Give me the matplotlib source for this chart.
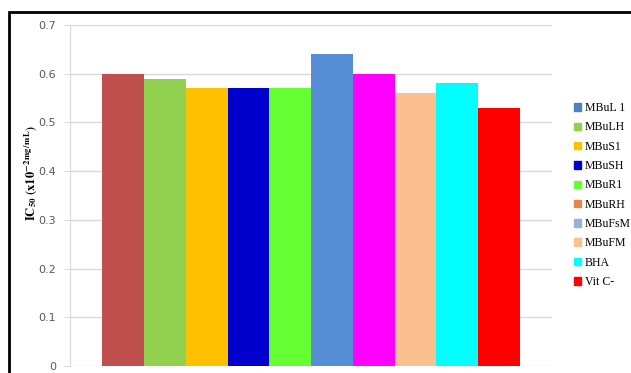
#!/usr/bin/env python3
"""IC50 bar chart for the MBu extracts vs. BHA and vitamin C."""

import matplotlib.pyplot as plt
from matplotlib.patches import Patch, Rectangle

SAMPLES = ["MBuL1", "MBuLH", "MBuS1", "MBuSH", "MBuR1",
           "MBuRH", "MBuFsM", "MBuFM", "BHA", "Vit C-"]
IC50 = [0.60, 0.59, 0.57, 0.57, 0.57, 0.64, 0.60, 0.56, 0.58, 0.53]
BAR_COLORS = ["#C0504D", "#92D050", "#FFC000", "#0000CC", "#66FF33",
              "#558ED5", "#FF00FF", "#FAC090", "#00FFFF", "#FF0000"]
LEGEND_COLORS = ["#4F81BD", "#92D050", "#FFC000", "#0000CC", "#66FF33",
                 "#E0884A", "#95B3D7", "#FAC090", "#00FFFF", "#FF0000"]
LEGEND_LABELS = ["MBuL 1", "MBuLH", "MBuS1", "MBuSH", "MBuR1",
                 "MBuRH", "MBuFsM", "MBuFM", "BHA", "Vit C-"]
YTICKS = [0, 0.1, 0.2, 0.3, 0.4, 0.5, 0.6, 0.7]


def main() -> None:
    plt.rcParams["mathtext.fontset"] = "stix"
    fig = plt.figure(figsize=(6.31, 3.73), dpi=100)
    ax = fig.add_axes([0.111, 0.019, 0.764, 0.914])

    xs = list(range(len(IC50)))
    ax.bar(xs, IC50, width=1.0, color=BAR_COLORS, zorder=3)

    ax.set_xlim(-1.27, len(IC50) - 1 + 1.27)
    ax.set_ylim(0, 0.7)
    ax.set_yticks(YTICKS)
    ax.set_yticklabels(["0" if v == 0 else f"{v:.1f}" for v in YTICKS])
    ax.set_xticks([])
    ax.grid(True, axis="y", color="#D9D9D9", linewidth=1.0, zorder=0)
    for side in ("top", "right", "bottom"):
        ax.spines[side].set_visible(False)
    ax.spines["left"].set_color("#D9D9D9")
    ax.tick_params(axis="y", colors="#D9D9D9", labelcolor="#595959",
                   labelsize=8, length=4, pad=6)

    fig.text(0.049, 0.535,
             r"$\mathbf{IC_{50}}\ \mathbf{(x10^{-2\,mg/\,mL})}$",
             rotation=90, ha="center", va="center", fontsize=9)

    handles = [Patch(color=c) for c in LEGEND_COLORS]
    fig.legend(handles, LEGEND_LABELS, loc="center left",
               bbox_to_anchor=(0.893, 0.477), frameon=False,
               prop={"family": "Liberation Serif", "size": 8.5},
               handlelength=0.6, handleheight=0.6, handletextpad=0.3,
               labelspacing=0.62)

    fig.patches.append(Rectangle((0.015, -0.2), 1.2, 1.168,
                                 transform=fig.transFigure, fill=False,
                                 edgecolor="black", linewidth=2))

    fig.savefig("out.png", dpi=100)
    plt.close(fig)


if __name__ == "__main__":
    main()
